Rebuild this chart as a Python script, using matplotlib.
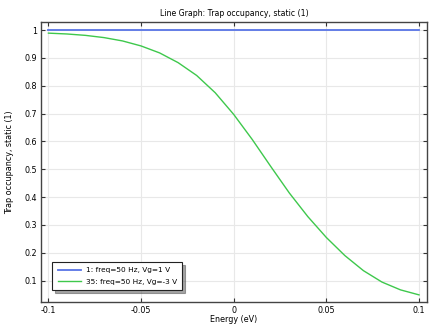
import numpy as np
import matplotlib
matplotlib.use("Agg")
import matplotlib.pyplot as plt

# energy axis (eV)
energy = [-0.10, -0.09, -0.08, -0.07, -0.06, -0.05, -0.04, -0.03, -0.02, -0.01,
          0.00, 0.01, 0.02, 0.03, 0.04, 0.05, 0.06, 0.07, 0.08, 0.09, 0.10]
occ_vg1 = [1.0] * len(energy)
occ_vgm3 = [0.989, 0.986, 0.981, 0.973, 0.961, 0.943, 0.918, 0.883, 0.837, 0.775,
            0.697, 0.607, 0.510, 0.415, 0.330, 0.255, 0.190, 0.136, 0.095, 0.067, 0.049]
labels = ["1: freq=50 Hz, Vg=1 V", "35: freq=50 Hz, Vg=-3 V"]

xticks = [-0.1, -0.05, 0, 0.05, 0.1]
xticklabels = ["-0.1", "-0.05", "0", "0.05", "0.1"]
yticks = [0.1, 0.2, 0.3, 0.4, 0.5, 0.6, 0.7, 0.8, 0.9, 1.0]
yticklabels = ["0.1", "0.2", "0.3", "0.4", "0.5", "0.6", "0.7", "0.8", "0.9", "1"]

plt.rcParams['font.family'] = 'DejaVu Sans'
fig = plt.figure(figsize=(4.35, 3.27), dpi=100)
ax = fig.add_axes([0.0943, 0.0765, 0.8873, 0.8562])

ax.plot(energy, occ_vg1, color='#5874e6', lw=1.3, label=labels[0])
ax.plot(energy, occ_vgm3, color='#3ec84c', lw=1.0, label=labels[1])

ax.set_xlim(-0.104, 0.1043)
ax.set_ylim(0.0235, 1.029)
ax.set_xticks(xticks)
ax.set_xticklabels(xticklabels)
ax.set_yticks(yticks)
ax.set_yticklabels(yticklabels)
ax.tick_params(direction='in', top=True, right=True, labelsize=5.8, length=3,
               width=0.8, color='#333333', pad=3)
ax.grid(True, color='#e8e8e8', lw=0.8)
ax.set_axisbelow(True)
for s in ax.spines.values():
    s.set_color('#444444')
    s.set_linewidth(1.0)

ax.set_title("Line Graph: Trap occupancy, static (1)", fontsize=5.6, pad=4)
ax.set_xlabel("Energy (eV)", fontsize=5.8, labelpad=0)
ax.set_ylabel("Trap occupancy, static (1)", fontsize=5.8, labelpad=7)

leg = ax.legend(loc='lower left', bbox_to_anchor=(0.02, 0.03), fontsize=5.3,
                fancybox=False, shadow=True, framealpha=1, edgecolor='#222222',
                handlelength=3.2, handletextpad=0.6, borderpad=0.7, labelspacing=0.7)
leg.get_frame().set_linewidth(0.8)

fig.savefig("out.png", dpi=100)
